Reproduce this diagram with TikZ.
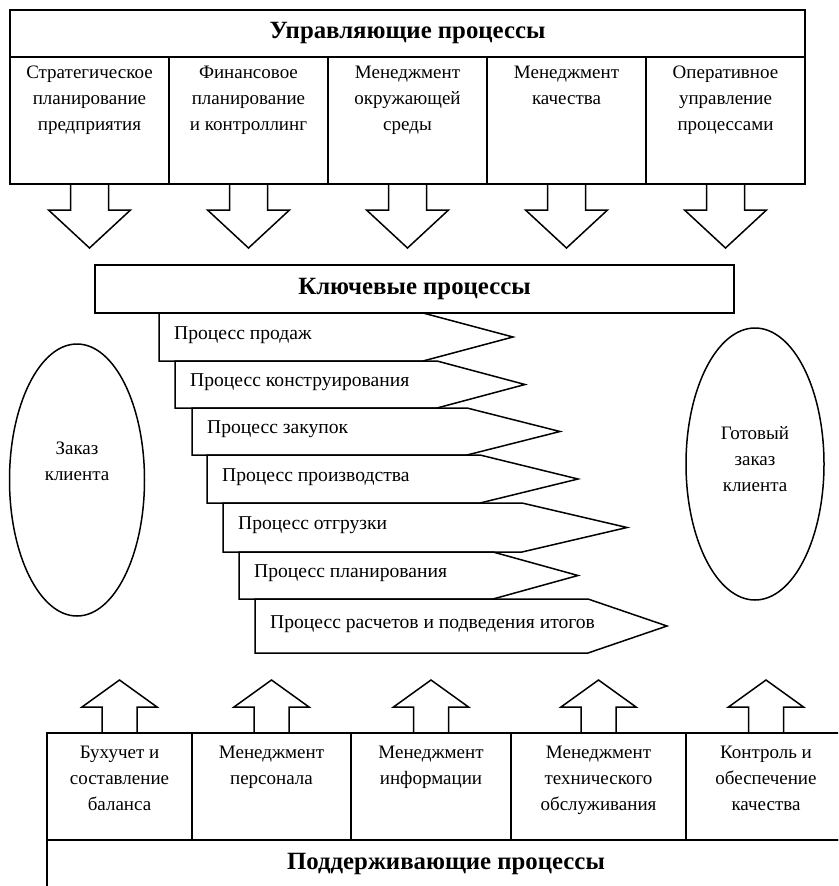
\documentclass[tikz,border=0pt]{standalone}
\usepackage{fontspec}
\setmainfont{Liberation Serif}
\usetikzlibrary{positioning,shapes.geometric}

\tikzset{
  box/.style={draw, line width=1.5pt, inner sep=0pt, outer sep=0pt},
  titlebox/.style={box, font=\bfseries\fontsize{24.8}{28}\selectfont},
  colbox/.style={box, minimum width=159pt, minimum height=127pt},
  subbox/.style={box, minimum height=107pt},
  coltext/.style={anchor=north, align=center, inner sep=0pt, yshift=-9pt,
    font=\fontsize{19}{26}\selectfont},
  blockarr/.style={line width=1.5pt},
  procline/.style={line width=1.5pt, line join=miter},
  proctext/.style={anchor=west, inner sep=0pt, font=\fontsize{19.6}{26}\selectfont},
  oval/.style={ellipse, draw, line width=1.5pt, inner sep=0pt, minimum height=272pt},
  ovaltext/.style={align=center, inner sep=0pt, font=\fontsize{19}{26}\selectfont}
}

\begin{document}
\begin{tikzpicture}[x=1pt, y=-1pt]
  \useasboundingbox (0,0) rectangle (838,886);
  \clip (0,0) rectangle (838,886);

  % --- Управляющие процессы ---
  \node[titlebox, minimum width=795pt, minimum height=47pt, anchor=north west]
    (upr) at (10,10) {Управляющие процессы};
  \node[colbox, anchor=north west, label={[coltext]north:{Стратегическое\\планирование\\предприятия}}]
    (c1) at (upr.south west) {};
  \node[colbox, right=0pt of c1, label={[coltext]north:{Финансовое\\планирование\\и контроллинг}}] (c2) {};
  \node[colbox, right=0pt of c2, label={[coltext]north:{Менеджмент\\окружающей\\среды}}] (c3) {};
  \node[colbox, right=0pt of c3, label={[coltext]north:{Менеджмент\\качества}}] (c4) {};
  \node[colbox, right=0pt of c4, label={[coltext]north:{Оперативное\\управление\\процессами}}] (c5) {};

  % --- arrows down ---
  \foreach \i in {1,...,5}
    \draw[blockarr] (c\i.south) ++(-19,0) -- ++(0,26) -- ++(-22,0) -- ++(41,38)
      -- ++(41,-38) -- ++(-22,0) -- ++(0,-26);

  % --- Ключевые процессы ---
  \node[titlebox, minimum width=639pt, minimum height=48pt, anchor=north west]
    (kl) at (95,265) {Ключевые процессы};

  \foreach \xl/\yt/\yb/\xs/\xe/\txt [count=\i] in {
      159/313/361/423/513/Процесс продаж,
      175/361/408/437/525/Процесс конструирования,
      192/408/455/467/560/Процесс закупок,
      207/455/503/480/578/Процесс производства,
      223/503/552/522/627/Процесс отгрузки,
      239/552/599/493/578/Процесс планирования,
      255/599/653/588/667/Процесс расчетов и подведения итогов} {
    \draw[procline] (\xl,\yt) -- (\xs,\yt) -- (\xe,{(\yt+\yb)/2}) -- (\xs,\yb) -- (\xl,\yb) -- cycle;
    \node[proctext] (p\i) at (\xl+15,{(\yt+\yb)/2-2}) {\txt};
  }

  % --- заказ ---
  \node[oval, minimum width=135pt] (zakaz) at (77,480) {};
  \node[ovaltext] (zakaztxt) at ([yshift=19pt]zakaz.center) {Заказ\\клиента};
  \node[oval, minimum width=138pt] (gotov) at (755,464) {};
  \node[ovaltext] (gotovtxt) at ([yshift=5pt]gotov.center) {Готовый\\заказ\\клиента};

  % --- Поддерживающие процессы ---
  \node[subbox, minimum width=145pt, anchor=north west,
    label={[coltext, yshift=-4pt]north:{Бухучет и\\составление\\баланса}}] (s1) at (47,733) {};
  \node[subbox, minimum width=159pt, right=0pt of s1,
    label={[coltext, yshift=-4pt]north:{Менеджмент\\персонала}}] (s2) {};
  \node[subbox, minimum width=160pt, right=0pt of s2,
    label={[coltext, yshift=-4pt]north:{Менеджмент\\информации}}] (s3) {};
  \node[subbox, minimum width=175pt, right=0pt of s3,
    label={[coltext, yshift=-4pt]north:{Менеджмент\\технического\\обслуживания}}] (s4) {};
  \node[subbox, minimum width=160pt, right=0pt of s4,
    label={[coltext, yshift=-4pt]north:{Контроль и\\обеспечение\\качества}}] (s5) {};
  \node[titlebox, minimum width=798pt, minimum height=48pt, anchor=north west]
    (pod) at (s1.south west) {Поддерживающие процессы};

  % --- arrows up ---
  \foreach \i in {1,...,5}
    \draw[blockarr] (s\i.north) ++(-17.5,0) -- ++(0,-26) -- ++(-20,0) -- ++(37.5,-27)
      -- ++(37.5,27) -- ++(-20,0) -- ++(0,26);
\end{tikzpicture}
\end{document}
